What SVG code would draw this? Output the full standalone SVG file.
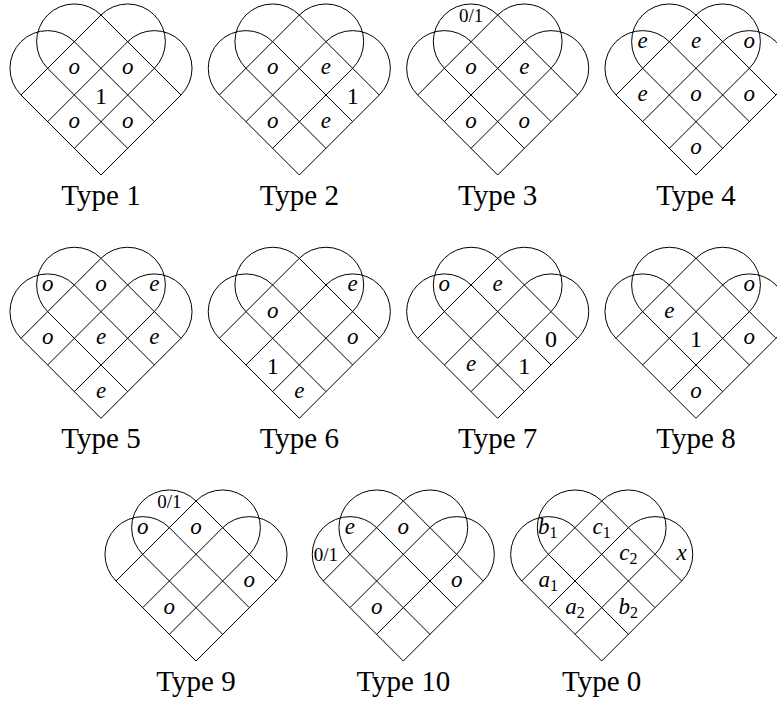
<svg xmlns="http://www.w3.org/2000/svg" xmlns:xlink="http://www.w3.org/1999/xlink" width="777" height="704" viewBox="0 0 777 704">
<style>
.ln{fill:none;stroke:#000;stroke-width:1}
.cap{font-family:"Liberation Serif","DejaVu Serif",serif;font-size:29px;text-anchor:middle;fill:#000}
.v{font-family:"Liberation Serif","DejaVu Serif",serif;font-style:italic;font-size:23px;text-anchor:middle;fill:#000}
.d{font-family:"Liberation Serif","DejaVu Serif",serif;font-size:24px;text-anchor:middle;fill:#000}
.f{font-family:"Liberation Serif","DejaVu Serif",serif;font-size:19px;text-anchor:middle;fill:#000}
.sub{font-style:normal;font-size:16px}
</style>
<defs>
<path id="heart" class="ln" d="M0,0 L-80,-80 M26.667,-26.667 L-53.333,-106.667 M53.333,-53.333 L-26.667,-133.333 M80,-80 L0,-160 M0,0 L80,-80 M-26.667,-26.667 L53.333,-106.667 M-53.333,-53.333 L26.667,-133.333 M-80,-80 L0,-160 M-80,-80 A37.712,37.712 0 0 1 -26.667,-133.333 M-53.333,-106.667 A37.712,37.712 0 0 1 0,-160 M80,-80 A37.712,37.712 0 0 0 26.667,-133.333 M53.333,-106.667 A37.712,37.712 0 0 0 0,-160"/>
</defs>
<g id="connectors"></g>

<g id="type1" transform="translate(101,175)">
<use xlink:href="#heart" href="#heart"/>
<text class="v" x="26.67" y="-47.3">o</text>
<text class="v" x="-26.67" y="-47.3">o</text>
<text class="d" x="0" y="-71.5">1</text>
<text class="v" x="26.67" y="-100.7">o</text>
<text class="v" x="-26.67" y="-100.7">o</text>
<text class="cap" x="0" y="30">Type 1</text>
</g>

<g id="type2" transform="translate(299.3,175)">
<use xlink:href="#heart" href="#heart"/>
<text class="v" x="-26.67" y="-100.7">o</text>
<text class="v" x="26.67" y="-100.7">e</text>
<text class="d" x="53.33" y="-71.5">1</text>
<text class="v" x="-26.67" y="-47.3">o</text>
<text class="v" x="26.67" y="-47.3">e</text>
<text class="cap" x="0" y="30">Type 2</text>
</g>

<g id="type3" transform="translate(497.7,175)">
<use xlink:href="#heart" href="#heart"/>
<text class="f" x="-26.67" y="-153.5">0/1</text>
<text class="v" x="-26.67" y="-100.7">o</text>
<text class="v" x="26.67" y="-100.7">e</text>
<text class="v" x="-26.67" y="-47.3">o</text>
<text class="v" x="26.67" y="-47.3">o</text>
<text class="cap" x="0" y="30">Type 3</text>
</g>

<g id="type4" transform="translate(696,175)">
<use xlink:href="#heart" href="#heart"/>
<text class="v" x="-53.33" y="-127.3">e</text>
<text class="v" x="0" y="-127.3">e</text>
<text class="v" x="53.33" y="-127.3">o</text>
<text class="v" x="-53.33" y="-74">e</text>
<text class="v" x="0" y="-74">o</text>
<text class="v" x="53.33" y="-74">o</text>
<text class="v" x="0" y="-20.7">o</text>
<text class="cap" x="0" y="30">Type 4</text>
</g>

<g id="type5" transform="translate(101,418.3)">
<use xlink:href="#heart" href="#heart"/>
<text class="v" x="-53.33" y="-127.3">o</text>
<text class="v" x="0" y="-127.3">o</text>
<text class="v" x="53.33" y="-127.3">e</text>
<text class="v" x="-53.33" y="-74">o</text>
<text class="v" x="0" y="-74">e</text>
<text class="v" x="53.33" y="-74">e</text>
<text class="v" x="0" y="-20.7">e</text>
<text class="cap" x="0" y="30">Type 5</text>
</g>

<g id="type6" transform="translate(299.3,418.3)">
<use xlink:href="#heart" href="#heart"/>
<text class="v" x="53.33" y="-127.3">e</text>
<text class="v" x="-26.67" y="-100.7">o</text>
<text class="v" x="53.33" y="-74">o</text>
<text class="d" x="-26.67" y="-44.8">1</text>
<text class="v" x="0" y="-20.7">e</text>
<text class="cap" x="0" y="30">Type 6</text>
</g>

<g id="type7" transform="translate(497.7,418.3)">
<use xlink:href="#heart" href="#heart"/>
<text class="v" x="-53.33" y="-127.3">o</text>
<text class="v" x="0" y="-127.3">e</text>
<text class="d" x="53.33" y="-71.5">0</text>
<text class="v" x="-26.67" y="-47.3">e</text>
<text class="d" x="26.67" y="-44.8">1</text>
<text class="cap" x="0" y="30">Type 7</text>
</g>

<g id="type8" transform="translate(696,418.3)">
<use xlink:href="#heart" href="#heart"/>
<text class="v" x="53.33" y="-127.3">o</text>
<text class="v" x="-26.67" y="-100.7">e</text>
<text class="d" x="0" y="-71.5">1</text>
<text class="v" x="53.33" y="-74">o</text>
<text class="v" x="0" y="-20.7">o</text>
<text class="cap" x="0" y="30">Type 8</text>
</g>

<g id="type9" transform="translate(196,661)">
<use xlink:href="#heart" href="#heart"/>
<text class="f" x="-26.67" y="-153.5">0/1</text>
<text class="v" x="-53.33" y="-127.3">o</text>
<text class="v" x="0" y="-127.3">o</text>
<text class="v" x="53.33" y="-74">o</text>
<text class="v" x="-26.67" y="-47.3">o</text>
<text class="cap" x="0" y="30">Type 9</text>
</g>

<g id="type10" transform="translate(403.3,661)">
<use xlink:href="#heart" href="#heart"/>
<text class="f" x="-77.5" y="-100.5">0/1</text>
<text class="v" x="-53.33" y="-127.3">e</text>
<text class="v" x="0" y="-127.3">o</text>
<text class="v" x="53.33" y="-74">o</text>
<text class="v" x="-26.67" y="-47.3">o</text>
<text class="cap" x="0" y="30">Type 10</text>
</g>

<g id="type0" transform="translate(601.7,661)">
<use xlink:href="#heart" href="#heart"/>
<text class="v" x="-54" y="-127.3">b<tspan class="sub" dy="4">1</tspan></text>
<text class="v" x="0" y="-127.3">c<tspan class="sub" dy="4">1</tspan></text>
<text class="v" x="26.67" y="-100.7">c<tspan class="sub" dy="4">2</tspan></text>
<text class="v" x="80" y="-100.7">x</text>
<text class="v" x="-53.33" y="-74">a<tspan class="sub" dy="4">1</tspan></text>
<text class="v" x="-26.67" y="-47.3">a<tspan class="sub" dy="4">2</tspan></text>
<text class="v" x="26.67" y="-47.3">b<tspan class="sub" dy="4">2</tspan></text>
<text class="cap" x="0" y="30">Type 0</text>
</g>
</svg>
